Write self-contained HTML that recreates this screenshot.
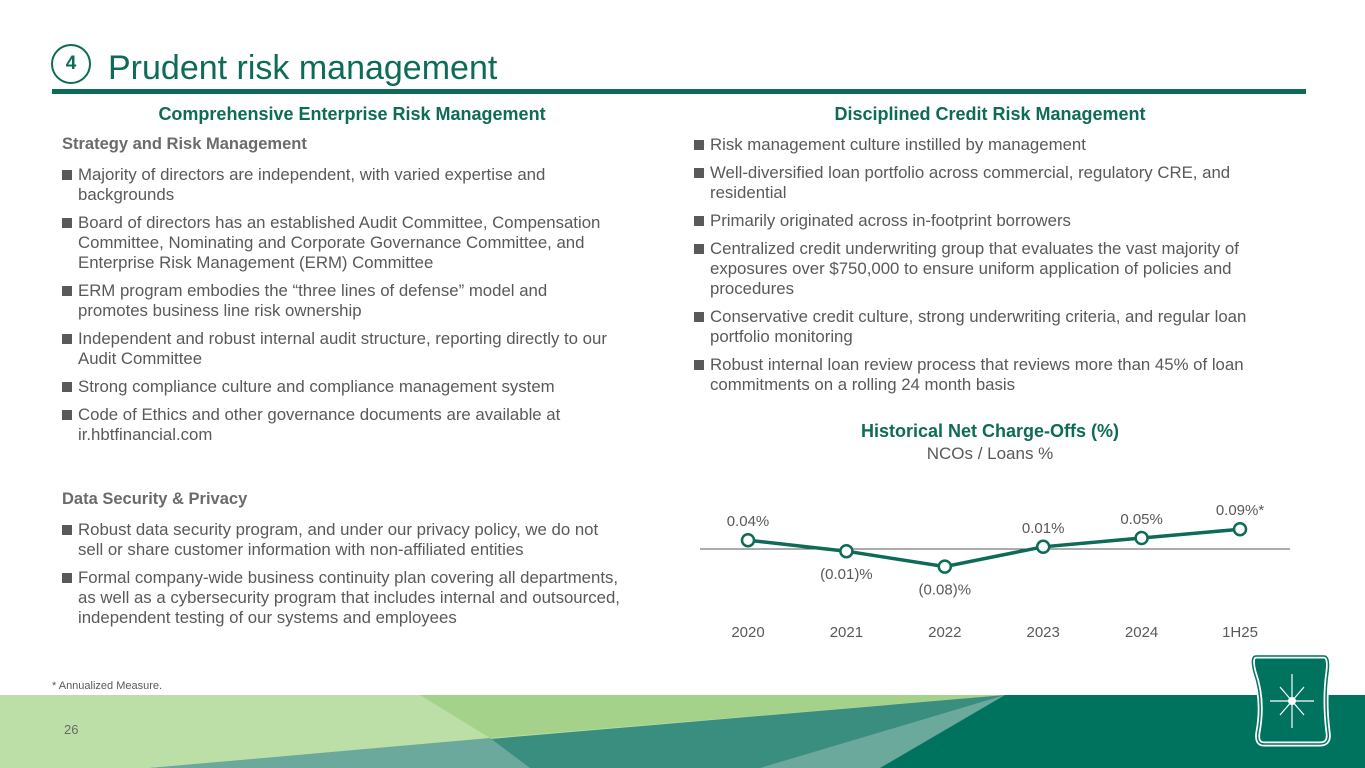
<!DOCTYPE html>
<html><head><meta charset="utf-8">
<style>
*{margin:0;padding:0;box-sizing:border-box}
body{width:1365px;height:768px;position:relative;overflow:hidden;background:#fff;font-family:"Liberation Sans",Arial,sans-serif;color:#595959}
.abs{position:absolute}
.h2{font-weight:bold;color:#0d6b57;font-size:18px;text-align:center}
.sub{font-weight:bold;color:#6b6b6b;font-size:16.5px}
ul{list-style:none}
li{position:relative;padding-left:16px;font-size:16.8px;line-height:20px;color:#595959;margin-bottom:8px}
li:before{content:"";position:absolute;left:0;top:5px;width:10px;height:10px;background:#595959}
</style></head><body>
<div class="abs" style="left:51px;top:44px;width:40px;height:40px;border:2px solid #0d6b57;border-radius:50%;text-align:center;line-height:36px;font-weight:bold;font-size:19px;color:#0d6b57">4</div>
<div class="abs" style="left:108px;top:46px;font-size:34px;color:#0d6b57;line-height:44px">Prudent risk management</div>
<div class="abs" style="left:52px;top:89px;width:1254px;height:5px;background:#0d6b57"></div>

<div class="abs h2" style="left:52px;top:104px;width:600px">Comprehensive Enterprise Risk Management</div>
<div class="abs sub" style="left:62px;top:135px">Strategy and Risk Management</div>
<ul class="abs" style="left:62px;top:165px;width:552px">
<li>Majority of directors are independent, with varied expertise and backgrounds</li>
<li>Board of directors has an established Audit Committee, Compensation Committee, Nominating and Corporate Governance Committee, and Enterprise Risk Management (ERM) Committee</li>
<li>ERM program embodies the “three lines of defense” model and promotes business line risk ownership</li>
<li>Independent and robust internal audit structure, reporting directly to our Audit Committee</li>
<li>Strong compliance culture and compliance management system</li>
<li>Code of Ethics and other governance documents are available at ir.hbtfinancial.com</li>
</ul>
<div class="abs sub" style="left:62px;top:490px">Data Security &amp; Privacy</div>
<ul class="abs" style="left:62px;top:520px;width:560px">
<li>Robust data security program, and under our privacy policy, we do not sell or share customer information with non-affiliated entities</li>
<li>Formal company-wide business continuity plan covering all departments, as well as a cybersecurity program that includes internal and outsourced, independent testing of our systems and employees</li>
</ul>

<div class="abs h2" style="left:690px;top:104px;width:600px">Disciplined Credit Risk Management</div>
<ul class="abs" style="left:694px;top:135px;width:572px">
<li>Risk management culture instilled by management</li>
<li>Well-diversified loan portfolio across commercial, regulatory CRE, and residential</li>
<li>Primarily originated across in-footprint borrowers</li>
<li>Centralized credit underwriting group that evaluates the vast majority of exposures over $750,000 to ensure uniform application of policies and procedures</li>
<li>Conservative credit culture, strong underwriting criteria, and regular loan portfolio monitoring</li>
<li>Robust internal loan review process that reviews more than 45% of loan commitments on a rolling 24 month basis</li>
</ul>

<div class="abs h2" style="left:690px;top:421px;width:600px">Historical Net Charge-Offs (%)</div>
<div class="abs" style="left:690px;top:444px;width:600px;text-align:center;font-size:17px;color:#595959">NCOs / Loans %</div>
<svg class="abs" id="chart" style="left:0;top:0" width="1365" height="768"></svg>

<div class="abs" style="left:52px;top:680px;font-size:11px;color:#595959">* Annualized Measure.</div>

<svg class="abs" style="left:0;top:695px" width="1365" height="73">
<rect x="0" y="0" width="1365" height="73" fill="#bcdea7"/>
<polygon points="420,0 1005,0 490,43" fill="#a4d28a"/>
<polygon points="150,73 1005,0 880,73" fill="#3a8e80"/>
<polygon points="150,73 490,43 530,73" fill="#6aa99c"/>
<polygon points="1005,0 760,73 880,73" fill="#6aa99c"/>
<polygon points="1005,0 1365,0 1365,73 880,73" fill="#00735f"/>
</svg>
<div class="abs" style="left:64px;top:722px;font-size:13px;color:#6b6b6b">26</div>
<svg class="abs" style="left:1250px;top:652px" width="84" height="96">
<path d="M6,4 L74,4 Q80,4 78,20 Q74,48 78,80 Q80,92 70,92 L14,92 Q6,92 8,80 Q14,48 4,20 Q0,4 6,4Z" fill="#00735f" stroke="#fff" stroke-width="5"/>
<path d="M6,4 L74,4 Q80,4 78,20 Q74,48 78,80 Q80,92 70,92 L14,92 Q6,92 8,80 Q14,48 4,20 Q0,4 6,4Z" fill="none" stroke="#00735f" stroke-width="1.5"/>
<g stroke="#fff" stroke-width="1.2"><line x1="42" y1="22" x2="42" y2="76"/><line x1="20" y1="49" x2="64" y2="49"/><line x1="30" y1="35" x2="54" y2="63"/><line x1="54" y1="35" x2="30" y2="63"/></g>
<circle cx="42" cy="49" r="4" fill="#fff"/>
</svg>

<script>
const categories=["2020","2021","2022","2023","2024","1H25"];
const values=[0.04,-0.01,-0.08,0.01,0.05,0.09];
const valueLabels=["0.04%","(0.01)%","(0.08)%","0.01%","0.05%","0.09%*"];
const svg=document.getElementById('chart');
const NS="http://www.w3.org/2000/svg";
const x0=748,step=98.4,zeroY=549,scale=220;
const xS=i=>x0+i*step;
const yS=v=>zeroY-v*scale;
function mk(t,a){const e=document.createElementNS(NS,t);for(const k in a)e.setAttribute(k,a[k]);svg.appendChild(e);return e;}
const axis=mk('line',{x1:700,x2:1290,y1:zeroY,y2:zeroY,stroke:'#595959','stroke-width':1});


const pl=mk('polyline',{points:values.map((v,i)=>xS(i)+','+yS(v)).join(' '),fill:'none',stroke:'#0d6b57','stroke-width':3.5});


values.forEach((v,i)=>{
 const c=mk('circle',{cx:xS(i),cy:yS(v),r:6,fill:'#fff',stroke:'#0d6b57','stroke-width':2.5});
 
 
 const ly=v>=0?yS(v)-14:yS(v)+28;
 const t=mk('text',{x:xS(i),y:ly,'text-anchor':'middle','font-size':15,fill:'#595959','font-family':'Liberation Sans, sans-serif'});
 t.textContent=valueLabels[i];
 
 
 const xl=mk('text',{x:xS(i),y:637,'text-anchor':'middle','font-size':15,fill:'#595959','font-family':'Liberation Sans, sans-serif'});
 xl.textContent=categories[i];
 
 
});
</script>
</body></html>
